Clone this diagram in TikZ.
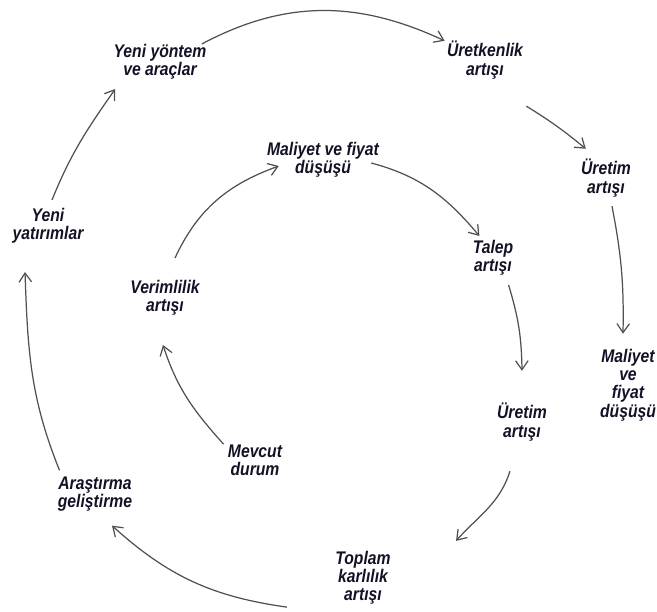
\documentclass[tikz,border=0pt]{standalone}
\usepackage{fontspec}
\setmainfont{Liberation Sans}[FakeStretch=0.86]
\usepackage{tikz}
\usetikzlibrary{arrows.meta,positioning}

\definecolor{inkblue}{RGB}{18,18,38}
\definecolor{arrgray}{RGB}{80,80,80}

\begin{document}
\begin{tikzpicture}[
    x=0.02cm, y=0.02cm,
    font=\fontsize{10.4}{10.4}\selectfont\bfseries\itshape,
    lab/.style = {align=center, inner sep=0pt, text=inkblue},
    arr/.style = {-{Straight Barb[length=1.8mm,width=2.5mm]}, draw=arrgray,
                  line width=0.7pt},
]
\useasboundingbox (0,0) rectangle (657,-612);

%% -- outer loop ------------------------------------------------------------
\node[lab] (yy) at (160,-62)  {Yeni yöntem\\ve araçlar};
\node[lab] (uk) at (485,-60)  {Üretkenlik\\artışı};
\node[lab] (ua) at (606,-178) {Üretim\\artışı};
\node[lab] (mo) at (628,-385) {Maliyet\\ve\\fiyat\\düşüşü};
\node[lab] (yt) at (48,-226)  {Yeni\\yatırımlar};
\node[lab] (ag) at (95,-494)  {Araştırma\\geliştirme};
\node[lab] (tk) at (363,-578) {Toplam\\karlılık\\artışı};

%% -- inner loop ------------------------------------------------------------
\node[lab] (mi) at (323,-160) {Maliyet ve fiyat\\düşüşü};
\node[lab] (ta) at (493,-258) {Talep\\artışı};
\node[lab] (ui) at (522,-422) {Üretim\\artışı};
\node[lab] (ve) at (165,-298) {Verimlilik\\artışı};
\node[lab] (me) at (255,-460) {Mevcut\\durum};

%% -- connectors ------------------------------------------------------------
\draw[arr] ([shift={(-5,0)}]yy.north east) to[out=28,in=155]
           ([shift={(-2,0)}]uk.north west);
\draw[arr] ([shift={(3,-27)}]uk.south east) to[bend left=4]
           ([shift={(5,10)}]ua.north west);
\draw[arr] ([shift={(6,-9)}]ua.south) to[bend left=6]
           ([shift={(-5,15)}]mo.north);
\draw[arr] ([shift={(-8,-3)}]mi.east) to[out=-15,in=130]
           ([shift={(7,4)}]ta.north west);
\draw[arr] ([shift={(-5,-9)}]ta.south east) to[bend left=8]
           ([shift={(0,32)}]ui.north);
\draw[arr] ([shift={(-12,-30)}]ui.south) to[out=-108,in=48]
           ([shift={(65,10)}]tk.north east);
\draw[arr] ([shift={(-48,-2)}]tk.south west) to[out=172,in=-42]
           ([shift={(17,-14)}]ag.south);
\draw[arr] ([shift={(2,6)}]ag.north west) to[out=112,in=-88]
           ([shift={(-23,-28)}]yt.south);
\draw[arr] ([shift={(4,8)}]yt.north) to[out=68,in=-125]
           ([shift={(2,-9)}]yy.south west);
\draw[arr] ([shift={(-4,0)}]me.north west) to[out=132,in=-72]
           ([shift={(-2,-29)}]ve.south);
\draw[arr] ([shift={(10,22)}]ve.north) to[out=65,in=200]
           ([shift={(12,-6)}]mi.west);

\end{tikzpicture}
\end{document}
